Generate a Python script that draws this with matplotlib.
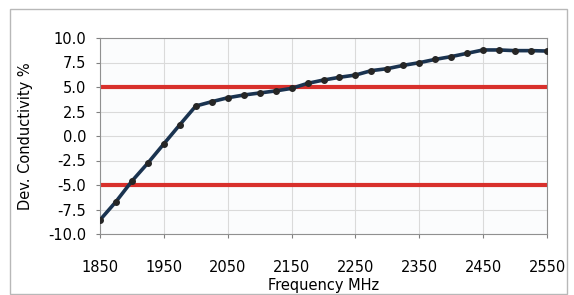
import matplotlib.pyplot as plt
from matplotlib.patches import Rectangle

plt.rcParams['font.family'] = ['DejaVu Sans']

freq = [1850, 1875, 1900, 1925, 1950, 1975, 2000, 2025, 2050, 2075, 2100,
        2125, 2150, 2175, 2200, 2225, 2250, 2275, 2300, 2325, 2350, 2375,
        2400, 2425, 2450, 2475, 2500, 2525, 2550]
dev = [-8.57, -6.7, -4.6, -2.76, -0.8, 1.15, 3.06, 3.5, 3.9, 4.18, 4.39,
       4.6, 4.86, 5.37, 5.71, 5.99, 6.22, 6.67, 6.87, 7.21, 7.48, 7.82,
       8.1, 8.44, 8.78, 8.78, 8.71, 8.71, 8.67]
limits = [5.0, -5.0]

xticks = [1850, 1950, 2050, 2150, 2250, 2350, 2450, 2550]
yticks = [-10.0, -7.5, -5.0, -2.5, 0.0, 2.5, 5.0, 7.5, 10.0]

fig = plt.figure(figsize=(5.74, 2.95), dpi=100)
fig.patches.append(Rectangle((10 / 574, 1 / 295), 557 / 574, 285 / 295,
                             transform=fig.transFigure, fill=False,
                             edgecolor='#b8b8b8', linewidth=1.0))
ax = fig.add_axes([100 / 574, 1 - 234 / 295, 447 / 574, 196 / 295])
ax.set_facecolor('#fbfcfd')

for lim in limits:
    ax.plot([freq[0], freq[-1]], [lim, lim], color='#d8302c', linewidth=3, zorder=2)

ax.plot(freq, dev, color='#1a3350', linewidth=2.6, marker='o', markersize=4,
        markerfacecolor='#262626', markeredgecolor='#262626', zorder=3)

ax.set_xlim(1850, 2550)
ax.set_ylim(-10, 10)
ax.set_xticks(xticks)
ax.set_yticks(yticks)
ax.set_yticklabels([f'{v:.1f}' for v in yticks])
ax.grid(True, color='#dadada', linewidth=0.8)
ax.set_axisbelow(True)
ax.tick_params(labelsize=10.5, length=3, color='#808080', pad=7)
ax.tick_params(axis='x', pad=16)
for s in ax.spines.values():
    s.set_color('#909090')
    s.set_linewidth(0.8)

ax.set_xlabel('Frequency MHz', fontsize=10.5, labelpad=2)
ax.set_ylabel('Dev. Conductivity %', fontsize=10.5, labelpad=11)

fig.savefig('out.png', dpi=100)
